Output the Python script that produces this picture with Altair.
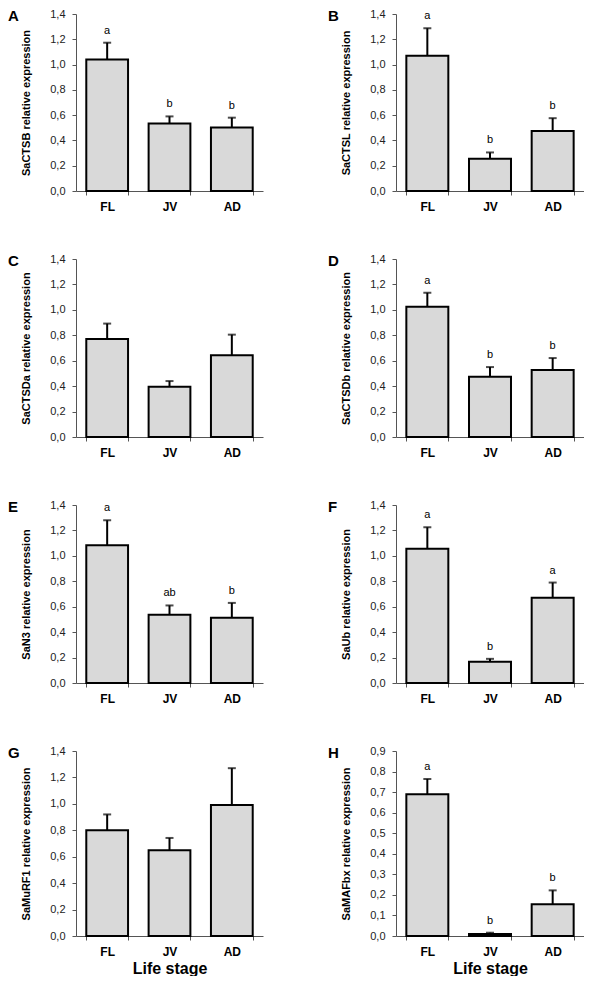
import altair as alt
import pandas as pd

stages = ["FL", "JV", "AD"]
panel_ids = ["A", "B", "C", "D", "E", "F", "G", "H"]
genes = ["SaCTSB", "SaCTSL", "SaCTSDa", "SaCTSDb", "SaN3", "SaUb", "SaMuRF1", "SaMAFbx"]

ctsb_mean = [1.04, 0.534, 0.503]
ctsb_upper = [1.173, 0.59, 0.58]
ctsb_sig = ["a", "b", "b"]

ctsl_mean = [1.07, 0.255, 0.474]
ctsl_upper = [1.287, 0.305, 0.576]
ctsl_sig = ["a", "b", "b"]

ctsda_mean = [0.771, 0.395, 0.642]
ctsda_upper = [0.892, 0.44, 0.805]
ctsda_sig = ["", "", ""]

ctsdb_mean = [1.024, 0.474, 0.526]
ctsdb_upper = [1.134, 0.55, 0.621]
ctsdb_sig = ["a", "b", "b"]

n3_mean = [1.084, 0.537, 0.513]
n3_upper = [1.28, 0.61, 0.63]
n3_sig = ["a", "ab", "b"]

ub_mean = [1.055, 0.168, 0.671]
ub_upper = [1.225, 0.19, 0.79]
ub_sig = ["a", "b", "a"]

murf1_mean = [0.80, 0.648, 0.992]
murf1_upper = [0.92, 0.742, 1.27]
murf1_sig = ["", "", ""]

mafbx_mean = [0.69, 0.01, 0.155]
mafbx_upper = [0.764, 0.016, 0.222]
mafbx_sig = ["a", "b", "b"]

y_ticks_main = [0.0, 0.2, 0.4, 0.6, 0.8, 1.0, 1.2, 1.4]
y_ticks_mafbx = [0.0, 0.1, 0.2, 0.3, 0.4, 0.5, 0.6, 0.7, 0.8, 0.9]

means = [ctsb_mean, ctsl_mean, ctsda_mean, ctsdb_mean, n3_mean, ub_mean, murf1_mean, mafbx_mean]
uppers = [ctsb_upper, ctsl_upper, ctsda_upper, ctsdb_upper, n3_upper, ub_upper, murf1_upper, mafbx_upper]
sigs = [ctsb_sig, ctsl_sig, ctsda_sig, ctsdb_sig, n3_sig, ub_sig, murf1_sig, mafbx_sig]

FONT = "Liberation Sans"
heights = [177, 177, 178, 178, 178, 178, 185, 185]
widths = [187, 188] * 4


def make_panel(i):
    df = pd.DataFrame({
        "stage": stages,
        "mean": means[i],
        "upper": uppers[i],
        "sig": sigs[i],
    })
    ticks = y_ticks_mafbx if i == 7 else y_ticks_main
    ymax = ticks[-1]
    bottom = i >= 6
    xaxis = alt.Axis(
        labelAngle=0, labelFont=FONT, labelFontSize=12, labelFontWeight="bold",
        labelColor="black", tickBand="extent", tickSize=4, tickColor="#555",
        domainColor="#555", labelPadding=6,
        titleFont=FONT, titleFontSize=16, titleFontWeight="bold", titleColor="black",
        titlePadding=3,
    )
    xscale = alt.Scale(paddingInner=0.33, paddingOuter=0.165)
    xtitle = "Life stage" if bottom else None
    yaxis = alt.Axis(
        values=ticks, grid=False, labelOverlap=False, labelFlush=False, labelBound=False,
        labelExpr="replace(format(datum.value, '.1f'), '.', ',')",
        labelFont=FONT, labelFontSize=11, labelColor="#222",
        tickSize=4, tickColor="#555", domainColor="#555", labelPadding=7,
        titleFont=FONT, titleFontSize=11, titleFontWeight="bold", titleColor="black",
        titlePadding=18,
    )
    yscale = alt.Scale(domain=[0, ymax], nice=False, zero=True)
    ytitle = genes[i] + " relative expression"

    def X():
        return alt.X("stage:N", sort=stages, axis=xaxis, title=xtitle, scale=xscale)

    def Y(field):
        return alt.Y(field, axis=yaxis, title=ytitle, scale=yscale)

    base = alt.Chart(df)
    bars = base.mark_bar(fill="#d9d9d9", stroke="black", strokeWidth=2).encode(
        x=X(), y=Y("mean:Q"))
    err = base.mark_rule(color="black", strokeWidth=2).encode(
        x=X(), y=Y("mean:Q"), y2="upper:Q")
    cap = base.mark_tick(color="black", size=8, thickness=2).encode(
        x=X(), y=Y("upper:Q"))
    lab = base.mark_text(font=FONT, fontSize=11, color="black", fill="black",
                         baseline="alphabetic", dy=-9).encode(
        x=X(), y=Y("upper:Q"), text="sig:N")
    letter = alt.Chart(pd.DataFrame({"p": [panel_ids[i]]})).mark_text(
        font=FONT, fontSize=15, fontWeight="bold", color="black", fill="black",
        align="left", baseline="top").encode(
        x=alt.value(-68), y=alt.value(-5), text="p:N")
    return alt.layer(err, cap, bars, lab, letter).properties(
        width=widths[i], height=heights[i])


panels = [make_panel(i) for i in range(8)]

chart = alt.concat(
    *panels, columns=2, spacing={"row": 68, "column": 133}, bounds="flush"
).properties(padding=0).configure_view(stroke=None)

chart.save("out.html", embed_options={"renderer": "svg", "actions": False})
